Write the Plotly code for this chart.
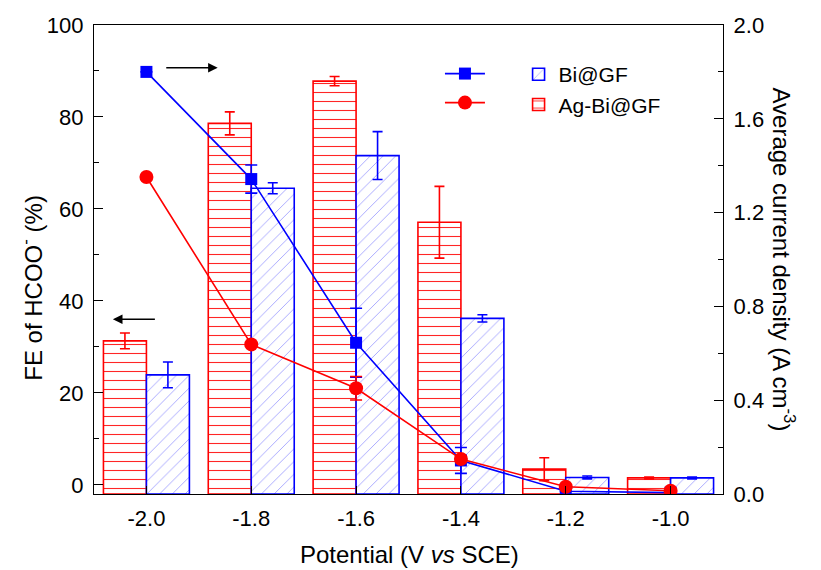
import plotly.graph_objects as go

potential = [-2.0, -1.8, -1.6, -1.4, -1.2, -1.0]

# Faradaic efficiency (%) - bars, left axis
fe_bi = [23.9, 64.5, 71.6, 36.2, 1.6, 1.5]
fe_bi_err = [2.8, 1.2, 5.2, 0.8, 0.3, 0.2]
fe_agbi = [31.3, 78.6, 87.8, 57.1, 3.4, 1.5]
fe_agbi_err = [1.7, 2.5, 1.0, 7.8, 2.5, 0.2]

# Average current density (A cm^-3) - lines, right axis
j_bi = [1.80, 1.343, 0.645, 0.143, 0.012, 0.006]
j_bi_err = [0.0, 0.06, 0.147, 0.055, 0.0, 0.0]
j_agbi = [1.352, 0.638, 0.451, 0.149, 0.031, 0.014]
j_agbi_err = [0.0, 0.0, 0.05, 0.0, 0.0, 0.0]

YMIN = -2
BLUE = "#0000FF"
RED = "#FF0000"
FONT = "Liberation Sans, Arial, sans-serif"
BW = 0.082
TF = 22

fig = go.Figure()

fig.add_trace(go.Bar(
    x=potential, y=[v - YMIN for v in fe_agbi], base=YMIN,
    width=BW, offset=-BW, name="Ag-Bi@GF", legend="legend2", legendrank=2,
    marker=dict(color="white", line=dict(color=RED, width=1.6),
                pattern=dict(shape="-", fgcolor=RED, bgcolor="white", size=9,
                             solidity=0.12, fgopacity=0.85)),
    error_y=dict(type="data", array=fe_agbi_err, color=RED, thickness=1.6, width=5),
))
fig.add_trace(go.Bar(
    x=potential, y=[v - YMIN for v in fe_bi], base=YMIN,
    width=BW, offset=0, name="Bi@GF", legend="legend2", legendrank=1,
    marker=dict(color="white", line=dict(color=BLUE, width=1.6),
                pattern=dict(shape="/", fgcolor=BLUE, bgcolor="white", size=9,
                             solidity=0.08, fgopacity=0.45)),
    error_y=dict(type="data", array=fe_bi_err, color=BLUE, thickness=1.6, width=5),
))
fig.add_trace(go.Scatter(
    x=potential, y=j_bi, yaxis="y2", mode="lines+markers", name=" ",
    legend="legend", legendrank=1,
    line=dict(color=BLUE, width=1.6),
    marker=dict(symbol="square", size=12, color=BLUE),
    error_y=dict(type="data", array=j_bi_err, color=BLUE, thickness=1.6, width=6),
))
fig.add_trace(go.Scatter(
    x=potential, y=j_agbi, yaxis="y2", mode="lines+markers", name=" ",
    legend="legend", legendrank=2,
    line=dict(color=RED, width=1.6),
    marker=dict(symbol="circle", size=14, color=RED),
    error_y=dict(type="data", array=j_agbi_err, color=RED, thickness=1.6, width=6),
))

fig.update_layout(
    width=821, height=570,
    margin=dict(l=94, r=98, t=25, b=76),
    plot_bgcolor="white", paper_bgcolor="white",
    font=dict(family=FONT, size=TF, color="black"),
    barmode="overlay",
    showlegend=True,
    legend=dict(x=0.55, y=0.938, xanchor="left", yanchor="top",
                bgcolor="rgba(0,0,0,0)", font=dict(size=20),
                tracegroupgap=0, itemwidth=40),
    legend2=dict(x=0.675, y=0.938, xanchor="left", yanchor="top",
                 bgcolor="rgba(0,0,0,0)", font=dict(size=21),
                 tracegroupgap=0),
    xaxis=dict(range=[-2.1, -0.9], tickvals=potential,
               ticktext=["-2.0", "-1.8", "-1.6", "-1.4", "-1.2", "-1.0"],
               ticks="inside", ticklen=8, tickwidth=1.3, tickcolor="black",
               ticklabelstandoff=4,
               showline=True, linecolor="black", linewidth=1.3, mirror=True,
               showgrid=False, zeroline=False,
               tickfont=dict(size=TF)),
    yaxis=dict(range=[YMIN, 100], tickvals=[0, 20, 40, 60, 80, 100],
               ticks="inside", ticklen=9, tickwidth=1.3, tickcolor="black",
               ticklabelstandoff=5,
               minor=dict(tickvals=[10, 30, 50, 70, 90], ticks="inside", ticklen=5,
                          tickwidth=1.3, tickcolor="black"),
               showline=True, linecolor="black", linewidth=1.3,
               showgrid=False, zeroline=False, tickfont=dict(size=TF)),
    yaxis2=dict(range=[0, 2.0], overlaying="y", side="right",
                tickvals=[0.0, 0.4, 0.8, 1.2, 1.6, 2.0],
                ticktext=["0.0", "0.4", "0.8", "1.2", "1.6", "2.0"],
                ticks="inside", ticklen=9, tickwidth=1.3, tickcolor="black",
                ticklabelstandoff=5,
                minor=dict(tickvals=[0.2, 0.6, 1.0, 1.4, 1.8], ticks="inside", ticklen=5,
                           tickwidth=1.3, tickcolor="black"),
                showline=True, linecolor="black", linewidth=1.3,
                showgrid=False, zeroline=False, tickfont=dict(size=TF)),
)

# axis titles
fig.add_annotation(text="Potential (V <i>vs</i> SCE)", xref="paper", yref="paper",
                   x=0.502, y=-0.13, xanchor="center", yanchor="middle",
                   showarrow=False, font=dict(size=24))
fig.add_annotation(text="FE of HCOO<sup>-</sup> (%)", xref="paper", yref="paper",
                   x=-0.10, y=0.44, xanchor="center", yanchor="middle", textangle=-90,
                   showarrow=False, font=dict(size=24))
fig.add_annotation(text="Average current density (A cm<sup>-3</sup>)", xref="paper", yref="paper",
                   x=1.097, y=0.50, xanchor="center", yanchor="middle", textangle=90,
                   showarrow=False, font=dict(size=24))

# axis-indicating arrows
fig.add_annotation(x=-2.064, y=36, ax=-1.981, ay=36, xref="x", yref="y", axref="x", ayref="y",
                   text="", showarrow=True, arrowhead=2, arrowsize=1.2, arrowwidth=1.6,
                   arrowcolor="black")
fig.add_annotation(x=-1.864, y=1.818, ax=-1.965, ay=1.818, xref="x", yref="y2", axref="x",
                   ayref="y2", text="", showarrow=True, arrowhead=2, arrowsize=1.2,
                   arrowwidth=1.6, arrowcolor="black")

fig.write_html("out.html")
